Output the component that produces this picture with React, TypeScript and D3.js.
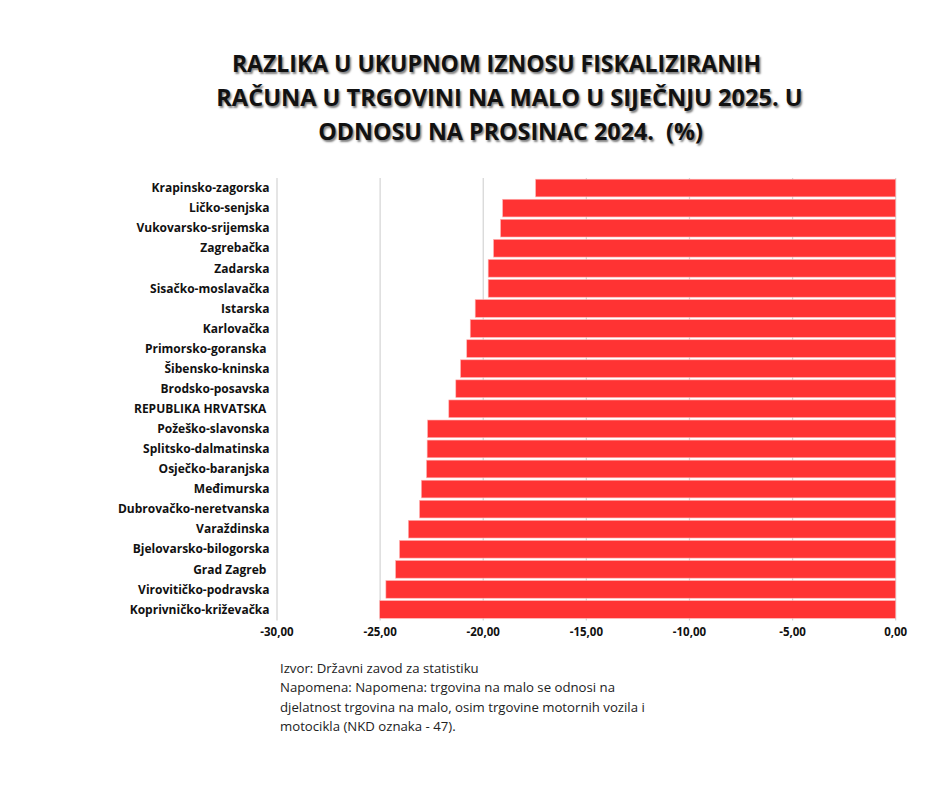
import React from "react";
import * as d3 from "d3";

const categories = [
  "Krapinsko-zagorska",
  "Ličko-senjska",
  "Vukovarsko-srijemska",
  "Zagrebačka",
  "Zadarska",
  "Sisačko-moslavačka",
  "Istarska",
  "Karlovačka",
  "Primorsko-goranska ",
  "Šibensko-kninska",
  "Brodsko-posavska",
  "REPUBLIKA HRVATSKA ",
  "Požeško-slavonska",
  "Splitsko-dalmatinska",
  "Osječko-baranjska",
  "Međimurska",
  "Dubrovačko-neretvanska",
  "Varaždinska",
  "Bjelovarsko-bilogorska",
  "Grad Zagreb ",
  "Virovitičko-podravska",
  "Koprivničko-križevačka",
];

const values = [
  -17.46, -19.06, -19.16, -19.5, -19.76, -19.76, -20.39, -20.63, -20.8, -21.1,
  -21.33, -21.67, -22.7, -22.72, -22.75, -23.0, -23.09, -23.63, -24.06, -24.25,
  -24.72, -25.02,
];

const tickValues = [-30, -25, -20, -15, -10, -5, 0];

const titleLines = [
  "RAZLIKA U UKUPNOM IZNOSU FISKALIZIRANIH",
  "RAČUNA U TRGOVINI NA MALO U SIJEČNJU 2025. U",
  "ODNOSU NA PROSINAC 2024.  (%)",
];

const noteLines = [
  "Izvor: Državni zavod za statistiku",
  "Napomena: Napomena: trgovina na malo se odnosi na",
  "djelatnost trgovina na malo, osim trgovine motornih vozila i",
  "motocikla (NKD oznaka - 47).",
];

const W = 940;
const H = 788;
const plot = { left: 277, right: 895.7, top: 178, bottom: 619.5 };
const titleCenters = [496.5, 509.5, 510.5];
const titleSizes = [23, 23.6, 23.3];

export default function App() {
  const x = d3.scaleLinear().domain([-30, 0]).range([plot.left, plot.right]);
  const y = d3
    .scaleBand<string>()
    .domain(categories)
    .range([plot.top, plot.bottom])
    .paddingInner(0.12)
    .paddingOuter(0.06);
  const fmt = (v: number) => v.toFixed(2).replace(".", ",");
  const font = "'Open Sans', 'Noto Sans', sans-serif";

  return (
    <svg
      width={W}
      height={H}
      style={{ position: "absolute", left: 0, top: 0, background: "#fff" }}
      fontFamily={font}
    >
      <rect width={W} height={H} fill="#fff" />
      {titleLines.map((t, i) => (
        <text
          key={i}
          x={titleCenters[i]}
          y={72 + i * 34}
          textAnchor="middle"
          fontSize={titleSizes[i]}
          fontWeight={700}
          fill="#111"
          style={{ textShadow: "1.5px 1.5px 2px rgba(0,0,0,0.5)", whiteSpace: "pre" }}
        >
          {t}
        </text>
      ))}

      {tickValues.map((t) => (
        <line
          key={t}
          x1={x(t)}
          x2={x(t)}
          y1={plot.top}
          y2={plot.bottom + 1}
          stroke="#d4d4d4"
          strokeWidth={1.2}
        />
      ))}

      {categories.map((c, i) => (
        <rect
          key={c}
          x={x(values[i])}
          y={y(c)}
          width={x(0) - x(values[i])}
          height={y.bandwidth()}
          fill="#ff3333"
          stroke="#ffb3b3"
          strokeWidth={0.6}
        />
      ))}

      {categories.map((c) => (
        <text
          key={c}
          x={269.5}
          y={(y(c) as number) + y.bandwidth() / 2}
          dy="0.35em"
          textAnchor="end"
          fontSize={12}
          fontWeight={700}
          fill="#111"
          style={{ whiteSpace: "pre" }}
        >
          {c}
        </text>
      ))}

      {tickValues.map((t) => (
        <text
          key={t}
          x={x(t)}
          y={636}
          textAnchor="middle"
          fontSize={11.5}
          fontWeight={700}
          fill="#111"
        >
          {fmt(t)}
        </text>
      ))}

      {noteLines.map((l, i) => (
        <text key={i} x={280} y={673 + i * 19.3} fontSize={13.2} fill="#222">
          {l}
        </text>
      ))}
    </svg>
  );
}
